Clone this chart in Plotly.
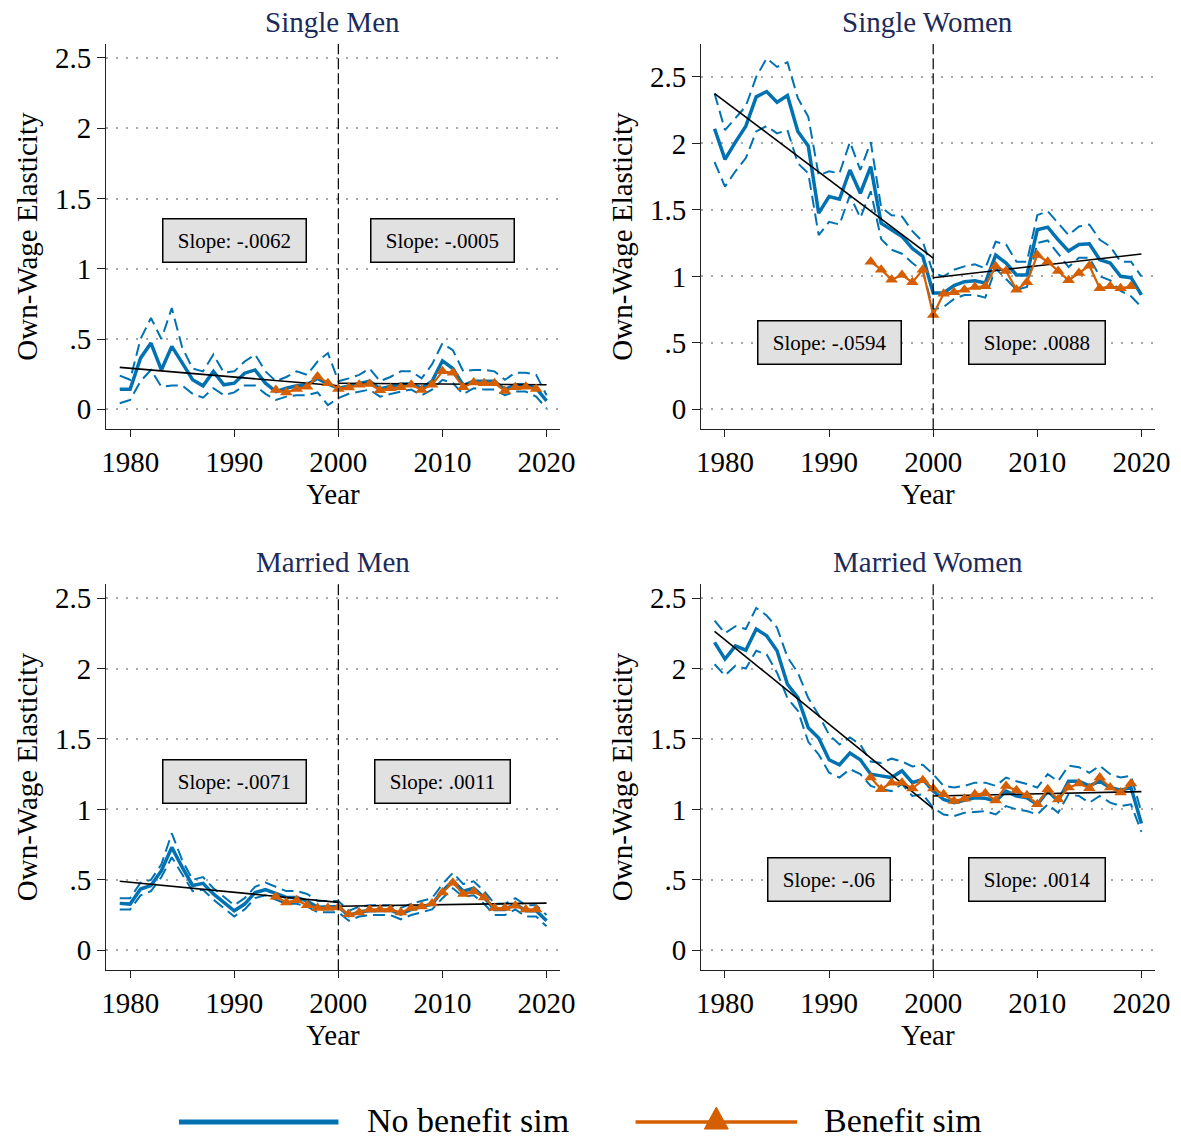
import plotly.graph_objects as go

# ---------------- data ----------------
years = list(range(1979, 2021))
ben_years = list(range(1994, 2020))
fit_pre_x = [1979, 2000]
fit_post_x = [2000, 2020]
x_ticks = [1980, 1990, 2000, 2010, 2020]
y_ticks = [0, 0.5, 1, 1.5, 2, 2.5]
y_ticktext = ["0", ".5", "1", "1.5", "2", "2.5"]

panel_titles = ["Single Men", "Single Women", "Married Men", "Married Women"]

sm_main = [0.143, 0.143, 0.364, 0.471, 0.28, 0.448, 0.33, 0.21, 0.167, 0.27,
           0.174, 0.186, 0.257, 0.28, 0.186, 0.126, 0.15, 0.167, 0.174, 0.22,
           0.18, 0.15, 0.165, 0.18, 0.2, 0.145, 0.16, 0.18, 0.18, 0.15,
           0.2, 0.345, 0.29, 0.17, 0.2, 0.2, 0.2, 0.14, 0.175, 0.175,
           0.15, 0.06]
sm_upper = [0.24, 0.21, 0.5, 0.65, 0.5, 0.72, 0.44, 0.29, 0.27, 0.39,
            0.26, 0.27, 0.34, 0.39, 0.27, 0.2, 0.23, 0.27, 0.245, 0.34,
            0.4, 0.2, 0.22, 0.245, 0.29, 0.2, 0.23, 0.27, 0.27, 0.22,
            0.32, 0.47, 0.42, 0.27, 0.28, 0.28, 0.27, 0.21, 0.26, 0.26,
            0.245, 0.1]
sm_lower = [0.043, 0.067, 0.2, 0.28, 0.16, 0.17, 0.17, 0.11, 0.083, 0.15,
            0.1, 0.12, 0.17, 0.17, 0.11, 0.067, 0.09, 0.1, 0.1, 0.12,
            0.03, 0.08, 0.11, 0.126, 0.14, 0.09, 0.11, 0.126, 0.14, 0.1,
            0.14, 0.21, 0.186, 0.107, 0.15, 0.14, 0.14, 0.1, 0.126, 0.126,
            0.09, 0.007]
sm_ben = [0.138, 0.12, 0.145, 0.16, 0.233, 0.186, 0.145, 0.155, 0.174, 0.18,
          0.136, 0.15, 0.157, 0.174, 0.138, 0.174, 0.27, 0.26, 0.157, 0.19,
          0.186, 0.186, 0.13, 0.157, 0.16, 0.145]
sm_fit_pre = [0.298, 0.167]
sm_fit_post = [0.185, 0.175]

sw_main = [2.11, 1.88, 2.01, 2.13, 2.35, 2.39, 2.31, 2.36, 2.09, 1.98,
           1.475, 1.6, 1.58, 1.8, 1.625, 1.825, 1.40, 1.35, 1.3, 1.21,
           1.15, 0.875, 0.875, 0.93, 0.96, 0.967, 0.95, 1.16, 1.1, 1.01,
           1.01, 1.35, 1.37, 1.275, 1.19, 1.24, 1.245, 1.125, 1.1, 1.0,
           0.99, 0.86]
sw_upper = [2.375, 2.1, 2.19, 2.28, 2.5, 2.64, 2.575, 2.61, 2.34, 2.2,
            1.76, 1.79, 1.775, 2.01, 1.8, 2.01, 1.52, 1.46, 1.45, 1.34,
            1.26, 1.025, 1.0, 1.05, 1.075, 1.09, 1.06, 1.26, 1.24, 1.11,
            1.11, 1.46, 1.49, 1.4, 1.31, 1.375, 1.39, 1.275, 1.225, 1.11,
            1.11, 1.0]
sw_lower = [1.86, 1.675, 1.79, 1.89, 2.09, 2.13, 2.075, 2.1, 1.85, 1.775,
            1.31, 1.41, 1.39, 1.61, 1.44, 1.64, 1.28, 1.2, 1.17, 1.1,
            1.04, 0.75, 0.77, 0.83, 0.86, 0.86, 0.84, 1.06, 0.98, 0.9,
            0.92, 1.25, 1.27, 1.17, 1.07, 1.14, 1.14, 1.0, 0.97, 0.89,
            0.85, 0.77]
sw_ben = [1.11, 1.05, 0.975, 1.01, 0.955, 1.05, 0.71, 0.87, 0.88, 0.9,
          0.92, 0.925, 1.075, 1.04, 0.9, 0.955, 1.16, 1.11, 1.04, 0.97,
          1.025, 1.08, 0.91, 0.925, 0.91, 0.925]
sw_fit_pre = [2.375, 1.1375]
sw_fit_post = [0.99, 1.1675]

mm_main = [0.333, 0.328, 0.435, 0.46, 0.565, 0.73, 0.59, 0.46, 0.475, 0.4,
           0.34, 0.28, 0.328, 0.41, 0.43, 0.4, 0.375, 0.375, 0.35, 0.305,
           0.305, 0.31, 0.245, 0.273, 0.28, 0.285, 0.285, 0.257, 0.29, 0.31,
           0.328, 0.42, 0.494, 0.42, 0.44, 0.375, 0.29, 0.29, 0.328, 0.28,
           0.28, 0.21]
mm_upper = [0.37, 0.37, 0.48, 0.5, 0.61, 0.83, 0.64, 0.5, 0.52, 0.44,
            0.38, 0.32, 0.37, 0.45, 0.48, 0.45, 0.42, 0.42, 0.4, 0.35,
            0.35, 0.35, 0.28, 0.31, 0.32, 0.32, 0.32, 0.3, 0.33, 0.35,
            0.37, 0.47, 0.55, 0.47, 0.49, 0.42, 0.33, 0.33, 0.37, 0.32,
            0.32, 0.25]
mm_lower = [0.29, 0.29, 0.39, 0.42, 0.52, 0.66, 0.54, 0.42, 0.43, 0.36,
            0.3, 0.24, 0.29, 0.37, 0.39, 0.36, 0.33, 0.33, 0.31, 0.27,
            0.27, 0.27, 0.21, 0.24, 0.25, 0.25, 0.25, 0.22, 0.25, 0.27,
            0.29, 0.37, 0.44, 0.38, 0.39, 0.33, 0.25, 0.25, 0.29, 0.24,
            0.24, 0.17]
mm_ben = [0.38, 0.34, 0.356, 0.32, 0.3, 0.3, 0.304, 0.256, 0.268, 0.29,
          0.29, 0.29, 0.268, 0.3, 0.31, 0.333, 0.41, 0.48, 0.4, 0.418,
          0.375, 0.3, 0.3, 0.316, 0.29, 0.29]
mm_fit_pre = [0.49, 0.34]
mm_fit_post = [0.313, 0.335]

mw_main = [2.186, 2.067, 2.16, 2.13, 2.28, 2.233, 2.126, 1.888, 1.793, 1.579,
           1.507, 1.352, 1.317, 1.4, 1.352, 1.25, 1.238, 1.226, 1.274, 1.19,
           1.214, 1.13, 1.07, 1.048, 1.064, 1.083, 1.079, 1.06, 1.13, 1.095,
           1.083, 1.036, 1.13, 1.06, 1.2, 1.2, 1.167, 1.2, 1.155, 1.136,
           1.155, 0.9]
mw_upper = [2.34, 2.25, 2.3, 2.28, 2.43, 2.376, 2.29, 2.08, 1.97, 1.79,
            1.67, 1.53, 1.46, 1.51, 1.46, 1.34, 1.33, 1.36, 1.34, 1.305,
            1.317, 1.25, 1.167, 1.155, 1.167, 1.19, 1.19, 1.167, 1.226, 1.2,
            1.18, 1.155, 1.25, 1.2, 1.31, 1.3, 1.26, 1.31, 1.25, 1.226,
            1.238, 0.98]
mw_lower = [2.03, 1.95, 2.02, 2.0, 2.126, 2.1, 1.97, 1.79, 1.7, 1.48,
            1.39, 1.26, 1.226, 1.286, 1.25, 1.167, 1.143, 1.13, 1.18, 1.095,
            1.107, 1.012, 0.964, 0.952, 0.976, 0.983, 0.988, 0.964, 1.024, 1.0,
            0.988, 0.964, 1.036, 0.976, 1.107, 1.095, 1.048, 1.095, 1.048, 1.024,
            1.036, 0.84]
mw_ben = [1.226, 1.143, 1.19, 1.19, 1.148, 1.207, 1.148, 1.107, 1.06, 1.076,
          1.107, 1.114, 1.064, 1.167, 1.136, 1.1, 1.036, 1.143, 1.071, 1.155,
          1.183, 1.15, 1.226, 1.155, 1.12, 1.183]
mw_fit_pre = [2.264, 1.005]
mw_fit_post = [1.095, 1.126]

slope_pre_labels = ["Slope: -.0062", "Slope: -.0594", "Slope: -.0071", "Slope: -.06"]
slope_post_labels = ["Slope: -.0005", "Slope: .0088", "Slope: .0011", "Slope: .0014"]
slope_label_y = [1.2, 0.5, 1.2, 0.5]
slope_label_x = [1990, 2010]

legend_labels = ["No benefit sim", "Benefit sim"]

# ---------------- styling ----------------
# The page is photographed slightly squeezed horizontally; place elements so
# they land on the target pixel columns after that squeeze.
W, H = 1197, 1139
SQ, OFF = 0.9855, 3.5


def px_x(px):
    """target picture column -> paper fraction"""
    return ((px - OFF) / SQ) / W


def px_y(py):
    """target picture row -> paper fraction"""
    return 1 - py / H


BLUE = "#0072B2"
ORANGE = "#D55E00"
FONT = "Liberation Serif, Times New Roman, serif"
TITLE_COLOR = "#1c2b5a"

panels = [
    (sm_main, sm_upper, sm_lower, sm_ben, sm_fit_pre, sm_fit_post),
    (sw_main, sw_upper, sw_lower, sw_ben, sw_fit_pre, sw_fit_post),
    (mm_main, mm_upper, mm_lower, mm_ben, mm_fit_pre, mm_fit_post),
    (mw_main, mw_upper, mw_lower, mw_ben, mw_fit_pre, mw_fit_post),
]

x_domains = [[px_x(105), px_x(560)], [px_x(701.7), px_x(1156.7)]]
y_domains = [[px_y(428), px_y(42)], [px_y(970), px_y(583)]]
y_ranges = [[-0.142, 2.6], [-0.15, 2.748], [-0.142, 2.6], [-0.142, 2.6]]
x_range = [1977.7, 2021.27]
title_y = [px_y(20), px_y(561)]

fig = go.Figure()
layout = dict(
    width=W, height=H, autosize=False,
    margin=dict(l=0, r=0, t=0, b=0),
    paper_bgcolor="white", plot_bgcolor="white",
    showlegend=False,
    font=dict(family=FONT, color="black"),
)
annotations = []
shapes = []

for i, (main, up, lo, ben, fpre, fpost) in enumerate(panels):
    r, c = divmod(i, 2)
    n = i + 1
    xa = "x" if n == 1 else f"x{n}"
    ya = "y" if n == 1 else f"y{n}"
    xkey = "xaxis" if n == 1 else f"xaxis{n}"
    ykey = "yaxis" if n == 1 else f"yaxis{n}"

    ci_line = dict(color=BLUE, width=2, dash="12px,6px")
    fig.add_trace(go.Scatter(x=years, y=up, mode="lines", line=ci_line, xaxis=xa, yaxis=ya))
    fig.add_trace(go.Scatter(x=years, y=lo, mode="lines", line=ci_line, xaxis=xa, yaxis=ya))
    fig.add_trace(go.Scatter(x=years, y=main, mode="lines", line=dict(color=BLUE, width=3.5),
                             xaxis=xa, yaxis=ya))
    fig.add_trace(go.Scatter(x=fit_pre_x, y=fpre, mode="lines", line=dict(color="black", width=1.6),
                             xaxis=xa, yaxis=ya))
    fig.add_trace(go.Scatter(x=fit_post_x, y=fpost, mode="lines", line=dict(color="black", width=1.6),
                             xaxis=xa, yaxis=ya))
    fig.add_trace(go.Scatter(x=ben_years, y=ben, mode="lines+markers",
                             line=dict(color=ORANGE, width=2.2),
                             marker=dict(symbol="triangle-up", size=11, color=ORANGE),
                             xaxis=xa, yaxis=ya))

    layout[xkey] = dict(
        domain=x_domains[c], range=x_range, anchor=ya,
        tickmode="array", tickvals=x_ticks, ticks="outside", ticklen=7, tickwidth=1.2,
        tickcolor="#222", showline=True, linecolor="#222", linewidth=1.2,
        showgrid=False, zeroline=False,
        tickfont=dict(family=FONT, size=29, color="black"),
        title=dict(text="Year", font=dict(family=FONT, size=29, color="black"), standoff=4),
    )
    layout[ykey] = dict(
        domain=y_domains[r], range=y_ranges[i], anchor=xa,
        tickmode="array", tickvals=y_ticks, ticktext=y_ticktext,
        ticks="outside", ticklen=8, tickwidth=1.2, tickcolor="#222",
        showline=True, linecolor="#222", linewidth=1.2,
        showgrid=True, gridcolor="#a8a8a8", griddash="2px,8px", gridwidth=1.8,
        zeroline=False,
        tickfont=dict(family=FONT, size=29, color="black"),
        title=dict(text="Own-Wage Elasticity", font=dict(family=FONT, size=29, color="black"),
                   standoff=8),
    )

    # vertical break line at 2000
    shapes.append(dict(type="line", xref=xa, yref=f"{ya} domain", x0=2000, x1=2000, y0=0, y1=1,
                       line=dict(color="black", width=1.2, dash="11px,4px")))

    # panel title
    annotations.append(dict(text=panel_titles[i], xref="paper", yref="paper",
                            x=(x_domains[c][0] + x_domains[c][1]) / 2, y=title_y[r],
                            xanchor="center", yanchor="middle", showarrow=False,
                            font=dict(family=FONT, size=29, color=TITLE_COLOR)))

    # slope boxes
    for sx, lab in zip(slope_label_x, [slope_pre_labels[i], slope_post_labels[i]]):
        annotations.append(dict(text="\u00a0" + lab + "\u00a0", xref=xa, yref=ya, x=sx,
                                y=slope_label_y[i], showarrow=False,
                                xanchor="center", yanchor="middle",
                                font=dict(family=FONT, size=21, color="black"),
                                bgcolor="#e1e1e1", bordercolor="black", borderwidth=1.5,
                                borderpad=9))

# ---------------- legend (bottom) ----------------
ly = px_y(1122)
shapes.append(dict(type="line", xref="paper", yref="paper", x0=px_x(178), x1=px_x(338), y0=ly, y1=ly,
                   line=dict(color=BLUE, width=5)))
shapes.append(dict(type="line", xref="paper", yref="paper", x0=px_x(636), x1=px_x(798), y0=ly, y1=ly,
                   line=dict(color=ORANGE, width=3.5)))
tx, tt, tb = px_x(717), px_y(1107), px_y(1129)
th = px_x(729) - tx
shapes.append(dict(type="path", xref="paper", yref="paper",
                   path=f"M {tx - th} {tb} L {tx + th} {tb} L {tx} {tt} Z",
                   fillcolor=ORANGE, line=dict(color=ORANGE, width=1)))
annotations.append(dict(text=legend_labels[0], xref="paper", yref="paper", x=px_x(365), y=px_y(1120),
                        xanchor="left", yanchor="middle", showarrow=False,
                        font=dict(family=FONT, size=34, color="black")))
annotations.append(dict(text=legend_labels[1], xref="paper", yref="paper", x=px_x(823), y=px_y(1120),
                        xanchor="left", yanchor="middle", showarrow=False,
                        font=dict(family=FONT, size=34, color="black")))

layout["annotations"] = annotations
layout["shapes"] = shapes
fig.update_layout(**layout)

page_fix = (
    "var h=document.documentElement,b=document.body;"
    "h.style.margin='0';h.style.padding='0';h.style.overflow='hidden';"
    "b.style.margin='0';b.style.padding='0';b.style.overflow='hidden';"
    "var d=document.querySelector('.plotly-graph-div');"
    "if(d){d.style.position='absolute';d.style.left='0px';d.style.top='0px';}"
)
fig.write_html("out.html",
               config={"displayModeBar": False, "responsive": False},
               post_script=page_fix)
